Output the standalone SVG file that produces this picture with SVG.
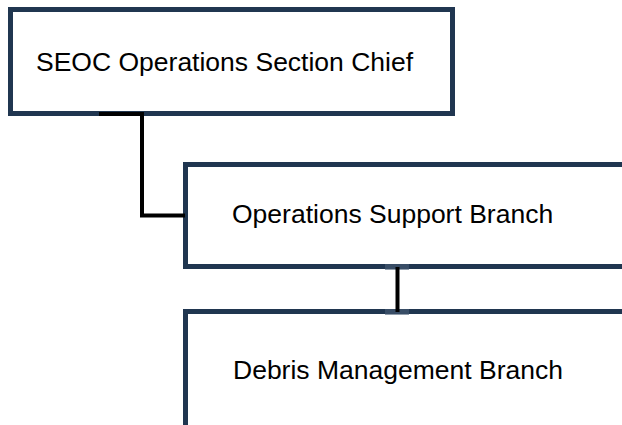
<svg xmlns="http://www.w3.org/2000/svg" width="622" height="425" viewBox="0 0 622 425">
  <style>
    .box { fill: #ffffff; stroke: #203650; stroke-width: 5; }
    .label { font-family: "Liberation Sans", Arial, sans-serif; font-size: 26.5px; fill: #000000; }
    .link { fill: none; stroke: #000000; stroke-width: 4; }
  </style>
  <rect width="622" height="425" fill="#ffffff"/>

  <g id="node-section-chief">
    <rect class="box" x="10.5" y="9.5" width="442" height="104"/>
    <text class="label" x="36" y="71">SEOC Operations Section Chief</text>
  </g>

  <g id="node-support-branch">
    <rect class="box" x="185.5" y="164.5" width="450" height="102"/>
    <text class="label" x="232" y="223">Operations Support Branch</text>
  </g>

  <g id="node-debris-branch">
    <rect class="box" x="185.5" y="311.5" width="450" height="130"/>
    <text class="label" x="233" y="379">Debris Management Branch</text>
  </g>

  <g id="connectors">
    <path class="link" d="M99,114 H142 V215.5 H185"/>
    <rect x="385" y="264" width="24" height="6" fill="#4a5d74" opacity="0.6"/>
    <rect x="385" y="309" width="24" height="6" fill="#4a5d74" opacity="0.6"/>
    <path class="link" d="M397.5,267 V312" stroke-width="4.5"/>
  </g>
</svg>
